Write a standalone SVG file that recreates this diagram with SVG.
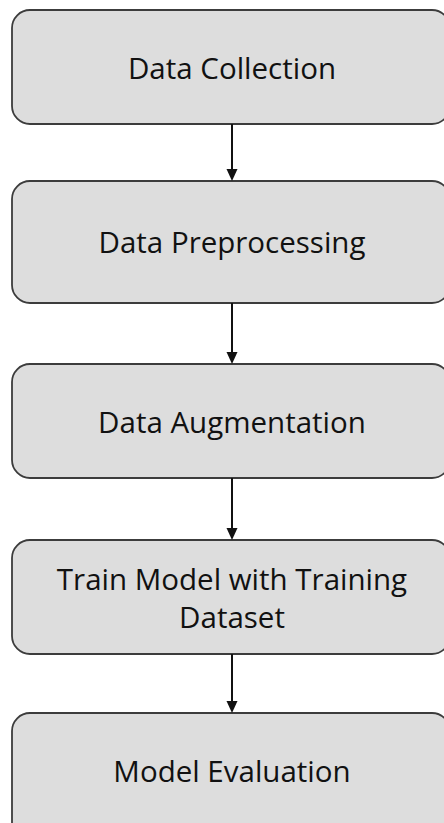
<svg xmlns="http://www.w3.org/2000/svg" width="444" height="823" viewBox="0 0 444 823">
<style>
.box{fill:#dddddd;stroke:#3c3c3c;stroke-width:1.8}
.lbl{font-family:"Open Sans","Liberation Sans",sans-serif;font-size:29.5px;fill:#111111;text-anchor:middle}
.conn{stroke:#111111;stroke-width:2;fill:none}
.head{fill:#111111}
</style>
<rect width="444" height="823" fill="#ffffff"/>
<g id="node-data-collection">
<rect class="box" x="12" y="10" width="438" height="114" rx="18" ry="18"/>
<text class="lbl" x="232" y="78.5">Data Collection</text>
</g>
<g id="node-data-preprocessing">
<rect class="box" x="12" y="181" width="438" height="122" rx="18" ry="18"/>
<text class="lbl" x="232" y="253">Data Preprocessing</text>
</g>
<g id="node-data-augmentation">
<rect class="box" x="12" y="364" width="438" height="114" rx="18" ry="18"/>
<text class="lbl" x="232" y="433">Data Augmentation</text>
</g>
<g id="node-train-model">
<rect class="box" x="12" y="540" width="438" height="114" rx="18" ry="18"/>
<text class="lbl" x="232" y="589.5">Train Model with Training</text>
<text class="lbl" x="232" y="628">Dataset</text>
</g>
<g id="node-model-evaluation">
<rect class="box" x="12" y="713" width="438" height="130" rx="18" ry="18"/>
<text class="lbl" x="232" y="782">Model Evaluation</text>
</g>
<g id="connectors">
<line class="conn" x1="232" y1="124" x2="232" y2="171"/>
<polygon class="head" points="226.5,169 237.5,169 232,181"/>
<line class="conn" x1="232" y1="303" x2="232" y2="354"/>
<polygon class="head" points="226.5,352 237.5,352 232,364"/>
<line class="conn" x1="232" y1="478" x2="232" y2="530"/>
<polygon class="head" points="226.5,528 237.5,528 232,540"/>
<line class="conn" x1="232" y1="654" x2="232" y2="703"/>
<polygon class="head" points="226.5,701 237.5,701 232,713"/>
</g>
</svg>
